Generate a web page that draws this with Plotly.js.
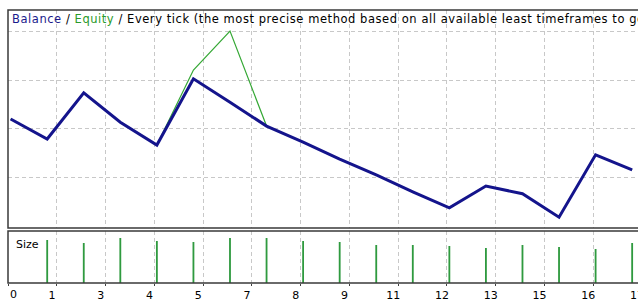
<!DOCTYPE html>
<html>
<head>
<meta charset="utf-8">
<script src="https://cdn.plot.ly/plotly-3.0.1.min.js"></script>
<style>
html,body{margin:0;padding:0;overflow:hidden;background:#fff;width:638px;height:303px;}
#chart{width:660px;height:303px;}
</style>
</head>
<body>
<div id="chart"></div>
<script>
// Trade index (x axis)
const trades = [0,1,2,3,4,5,6,7,8,9,10,11,12,13,14,15,16,17];
// Balance after each trade
const balance = [10020.5, 9979.5, 10074, 10014, 9967, 10103, 10055, 10006, 9973, 9938, 9906, 9871, 9838, 9883, 9867, 9819, 9947, 9916];
// Equity after each trade
const equity  = [10020.5, 9979.5, 10074, 10014, 9967, 10121, 10201, 10006, 9973, 9938, 9906, 9871, 9838, 9883, 9867, 9819, 9947, 9916];
// Lot size per trade
const sizeTrades = [1,2,3,4,5,6,7,8,9,10,11,12,13,14,15,16,17];
const sizes = [0.43,0.40,0.45,0.42,0.41,0.45,0.45,0.42,0.41,0.38,0.38,0.37,0.35,0.38,0.36,0.34,0.40];
// X tick labels
const xTickLabels = ['0','1','3','4','5','7','8','9','11','12','13','15','16','17'];
// Horizontal grid levels (main panel)
const yGrid = [9900, 10000, 10100, 10200];

const gridStart = -0.066, gridStep = 1.3334;
const xTickVals = xTickLabels.map((_, k) => gridStart + gridStep * k);

const W = 660, H = 303, ml = 8, mt = 10, mb = 20, plotH = H - mt - mb;
const pY = px => (H - mb - px) / plotH;
const pxPerTrade = 36.56;
const xr = [-0.072, -0.072 + (W - ml) / pxPerTrade];

const traces = [
  {x: trades, y: equity, type: 'scatter', mode: 'lines', line: {color: '#35a835', width: 1.2}, xaxis: 'x', yaxis: 'y', hoverinfo: 'skip'},
  {x: trades, y: balance, type: 'scatter', mode: 'lines', line: {color: '#14148c', width: 3}, xaxis: 'x', yaxis: 'y', hoverinfo: 'skip'},
  {x: sizeTrades, y: sizes, type: 'bar', width: 0.05, marker: {color: '#2f9a3f', line: {width: 0}}, xaxis: 'x', yaxis: 'y2', hoverinfo: 'skip'}
];

const ls = 'letter-spacing:0.55px';
const layout = {
  width: W, height: H,
  margin: {l: ml, r: 0, t: mt, b: mb, pad: 0},
  paper_bgcolor: '#fff', plot_bgcolor: '#fff',
  showlegend: false,
  font: {family: 'DejaVu Sans', size: 11, color: '#000'},
  xaxis: {
    range: xr, anchor: 'y2', tickmode: 'array', tickvals: xTickVals,
    ticktext: xTickLabels.map((t, i) => i === 0 ? '' : t),
    showgrid: true, gridcolor: '#c8c8c8', griddash: '4px,3px', gridwidth: 1,
    zeroline: false, showline: false,
    ticks: 'outside', ticklen: 2, tickcolor: '#404040', tickwidth: 1,
    ticklabelshift: -5, ticklabelstandoff: 0, ticklabeloverflow: 'allow',
    tickfont: {family: 'DejaVu Sans', size: 11, color: '#000'}
  },
  yaxis: {
    domain: [pY(228), pY(10)], range: [9796.7, 10244.3],
    tickmode: 'array', tickvals: yGrid, showticklabels: false,
    showgrid: true, gridcolor: '#c8c8c8', griddash: '4px,3px', gridwidth: 1,
    zeroline: false, showline: false, ticks: ''
  },
  yaxis2: {
    domain: [0, pY(231)], range: [0, 0.52],
    showgrid: false, showticklabels: false, zeroline: false, showline: false, ticks: ''
  },
  shapes: [
    {type: 'rect', xref: 'paper', yref: 'paper', x0: 0, x1: 1.2, y0: pY(228), y1: pY(10), line: {color: '#3a3a3a', width: 1.5}},
    {type: 'rect', xref: 'paper', yref: 'paper', x0: 0, x1: 1.2, y0: 0, y1: pY(231), line: {color: '#3a3a3a', width: 1.5}}
  ],
  annotations: [
    {xref: 'paper', yref: 'paper', x: 2/(W - ml), y: pY(19), xanchor: 'left', yanchor: 'middle', showarrow: false,
     align: 'left',
     text: '<span style="color:#1a1a8c;' + ls + '">Balance</span><span style="' + ls + '"> / </span><span style="color:#2a9a2a;' + ls + '">Equity</span><span style="' + ls + '"> / Every tick (the most precise method based on all available least timeframes to generate each tick)</span>',
     font: {family: 'DejaVu Sans', size: 11.5, color: '#000'}},
    {xref: 'paper', yref: 'paper', x: 6/(W - ml), y: pY(244), xanchor: 'left', yanchor: 'middle', showarrow: false,
     text: 'Size', font: {family: 'DejaVu Sans', size: 11, color: '#000'}},
    {xref: 'paper', yref: 'paper', x: 0, y: pY(294.5), xanchor: 'left', yanchor: 'middle', showarrow: false,
     xshift: 0, text: xTickLabels[0], font: {family: 'DejaVu Sans', size: 11, color: '#000'}}
  ]
};

Plotly.newPlot('chart', traces, layout, {staticPlot: true, displayModeBar: false});
</script>
</body>
</html>
